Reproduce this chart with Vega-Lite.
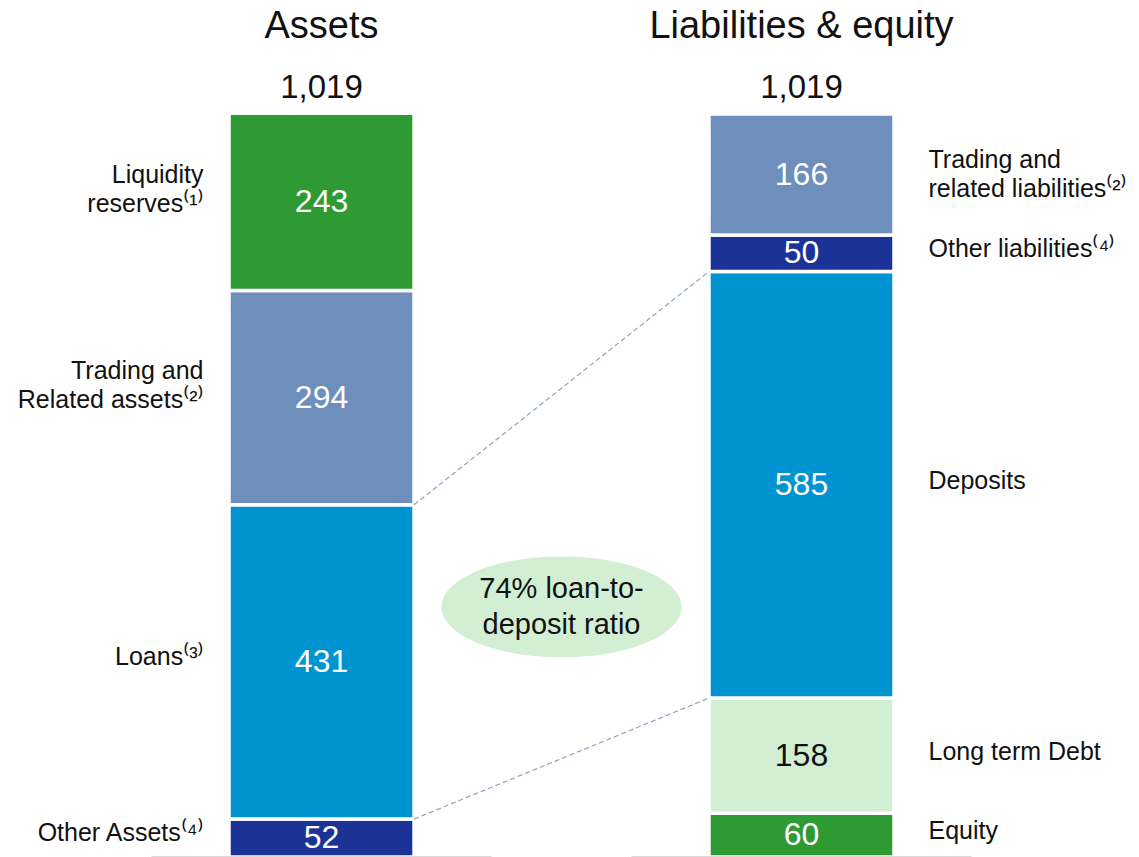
{
  "$schema": "https://vega.github.io/schema/vega-lite/v6.json",
  "width": 1139,
  "height": 857,
  "padding": 0,
  "autosize": {"type": "none"},
  "background": "white",
  "config": {"view": {"stroke": null}, "font": "Liberation Sans"},
  "datasets": {
    "segments": [
      {"side": "Assets", "segment": "Other Assets", "label": "Other Assets⁽⁴⁾", "value": 52, "order": 1},
      {"side": "Assets", "segment": "Loans", "label": "Loans⁽³⁾", "value": 431, "order": 2},
      {"side": "Assets", "segment": "Trading and Related assets", "label": "Trading and\nRelated assets⁽²⁾", "value": 294, "order": 3},
      {"side": "Assets", "segment": "Liquidity reserves", "label": "Liquidity\nreserves⁽¹⁾", "value": 243, "order": 4},
      {"side": "Liabilities & equity", "segment": "Equity", "label": "Equity", "value": 60, "order": 1},
      {"side": "Liabilities & equity", "segment": "Long term Debt", "label": "Long term Debt", "value": 158, "order": 2},
      {"side": "Liabilities & equity", "segment": "Deposits", "label": "Deposits", "value": 585, "order": 3},
      {"side": "Liabilities & equity", "segment": "Other liabilities", "label": "Other liabilities⁽⁴⁾", "value": 50, "order": 4},
      {"side": "Liabilities & equity", "segment": "Trading and related liabilities", "label": "Trading and\nrelated liabilities⁽²⁾", "value": 166, "order": 5}
    ],
    "totals": [
      {"side": "Assets", "total": 1019},
      {"side": "Liabilities & equity", "total": 1019}
    ],
    "connectors": [
      {"from": 483, "to": 803},
      {"from": 52, "to": 218}
    ],
    "notes": [
      {"note": "74% loan-to-\ndeposit ratio"}
    ]
  },
  "data": {"name": "segments"},
  "transform": [
    {"stack": "value", "groupby": ["side"], "sort": [{"field": "order", "order": "ascending"}], "as": ["y0", "y1"]},
    {"calculate": "(datum.y0 + datum.y1) / 2", "as": "mid"}
  ],
  "layer": [
    {
      "mark": {"type": "bar", "stroke": "white", "strokeWidth": 3.5},
      "encoding": {
        "x": {
          "field": "side", "type": "nominal", "axis": null,
          "scale": {"domain": ["Assets", "mid", "Liabilities & equity"], "range": [201.5, 921.5], "paddingInner": 0.229, "paddingOuter": 0.1146}
        },
        "y": {"field": "y0", "type": "quantitative", "axis": null, "scale": {"domain": [0, 1175.35], "nice": false, "zero": true}},
        "y2": {"field": "y1"},
        "color": {
          "field": "segment", "type": "nominal", "legend": null,
          "scale": {
            "domain": ["Other Assets", "Loans", "Trading and Related assets", "Liquidity reserves", "Equity", "Long term Debt", "Deposits", "Other liabilities", "Trading and related liabilities"],
            "range": ["#1B3396", "#0093D1", "#6E8EBB", "#2E9A33", "#2E9A33", "#D3EFD3", "#0093D1", "#1B3396", "#6E8EBB"]
          }
        }
      }
    },
    {
      "data": {"name": "totals"},
      "mark": {"type": "tick", "size": 340, "thickness": 2, "color": "#C8C8C8"},
      "encoding": {
        "x": {"field": "side", "type": "nominal"},
        "y": {"datum": 0, "type": "quantitative"}
      }
    },
    {
      "mark": {"type": "text", "fontSize": 32, "baseline": "middle", "align": "center"},
      "encoding": {
        "x": {"field": "side", "type": "nominal"},
        "y": {"field": "mid", "type": "quantitative"},
        "text": {"field": "value", "type": "quantitative"},
        "color": {"condition": {"test": "datum.segment === 'Long term Debt'", "value": "#111111"}, "value": "white"}
      }
    },
    {
      "transform": [{"filter": "datum.side === 'Assets' && indexof(datum.label, '\\n') >= 0"}],
      "mark": {"type": "text", "fontSize": 25, "baseline": "middle", "align": "right", "dx": -118, "dy": -27, "lineBreak": "\n", "lineHeight": 29, "color": "#111111"},
      "encoding": {
        "x": {"field": "side", "type": "nominal"},
        "y": {"field": "mid", "type": "quantitative"},
        "text": {"field": "label"}
      }
    },
    {
      "transform": [{"filter": "datum.side === 'Assets' && indexof(datum.label, '\\n') < 0"}],
      "mark": {"type": "text", "fontSize": 25, "baseline": "middle", "align": "right", "dx": -118, "dy": -5, "color": "#111111"},
      "encoding": {
        "x": {"field": "side", "type": "nominal"},
        "y": {"field": "mid", "type": "quantitative"},
        "text": {"field": "label"}
      }
    },
    {
      "transform": [{"filter": "datum.side !== 'Assets' && indexof(datum.label, '\\n') >= 0"}],
      "mark": {"type": "text", "fontSize": 25, "baseline": "middle", "align": "left", "dx": 127, "dy": -15, "lineBreak": "\n", "lineHeight": 29, "color": "#111111"},
      "encoding": {
        "x": {"field": "side", "type": "nominal"},
        "y": {"field": "mid", "type": "quantitative"},
        "text": {"field": "label"}
      }
    },
    {
      "transform": [{"filter": "datum.side !== 'Assets' && indexof(datum.label, '\\n') < 0"}],
      "mark": {"type": "text", "fontSize": 25, "baseline": "middle", "align": "left", "dx": 127, "dy": -4, "color": "#111111"},
      "encoding": {
        "x": {"field": "side", "type": "nominal"},
        "y": {"field": "mid", "type": "quantitative"},
        "text": {"field": "label"}
      }
    },
    {
      "data": {"name": "connectors"},
      "mark": {"type": "rule", "color": "#8FA3BE", "strokeWidth": 1.2, "strokeDash": [5, 3]},
      "encoding": {
        "x": {"datum": "Assets", "type": "nominal", "bandPosition": 1},
        "x2": {"datum": "Liabilities & equity", "bandPosition": 0},
        "y": {"field": "from", "type": "quantitative"},
        "y2": {"field": "to"}
      }
    },
    {
      "data": {"name": "notes"},
      "mark": {"type": "point", "filled": true, "opacity": 1, "color": "#D3EFD3", "size": 57600, "shape": "M-1,0 A1,0.42 0 1,1 1,0 A1,0.42 0 1,1 -1,0 Z"},
      "encoding": {
        "x": {"datum": "mid", "type": "nominal"},
        "y": {"datum": 343, "type": "quantitative"}
      }
    },
    {
      "data": {"name": "notes"},
      "mark": {"type": "text", "fontSize": 29, "baseline": "middle", "align": "center", "dy": -18, "lineBreak": "\n", "lineHeight": 36, "color": "#111111"},
      "encoding": {
        "x": {"datum": "mid", "type": "nominal"},
        "y": {"datum": 343, "type": "quantitative"},
        "text": {"field": "note"}
      }
    },
    {
      "data": {"name": "totals"},
      "mark": {"type": "text", "fontSize": 33, "baseline": "middle", "align": "center", "dy": -26, "color": "#111111"},
      "encoding": {
        "x": {"field": "side", "type": "nominal"},
        "y": {"field": "total", "type": "quantitative"},
        "text": {"field": "total", "type": "quantitative", "format": ","}
      }
    },
    {
      "data": {"name": "totals"},
      "mark": {"type": "text", "fontSize": 38, "baseline": "middle", "align": "center", "dy": -87, "color": "#111111"},
      "encoding": {
        "x": {"field": "side", "type": "nominal"},
        "y": {"field": "total", "type": "quantitative"},
        "text": {"field": "side"}
      }
    }
  ]
}
